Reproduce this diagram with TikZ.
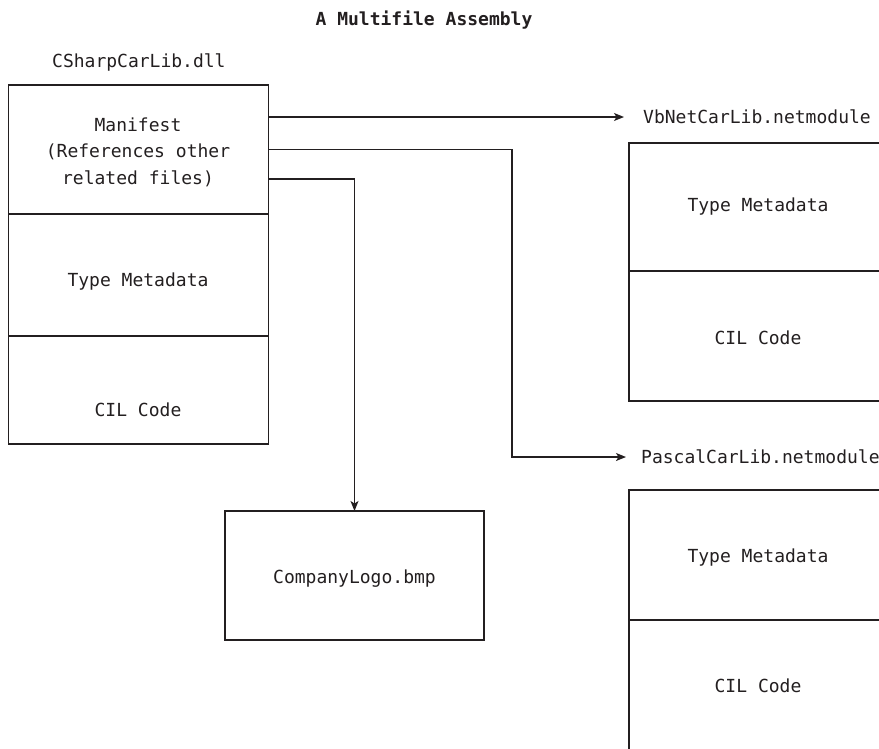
\documentclass[tikz,border=0pt]{standalone}
\usepackage{fontspec}
\setmonofont{DejaVu Sans Mono}
\usetikzlibrary{arrows.meta,calc}
\definecolor{ink}{RGB}{35,31,32}
\begin{document}
\begin{tikzpicture}[x=1pt,y=-1pt,
  txt/.style={font=\ttfamily\fontsize{18}{26.5}\selectfont, text=ink, inner sep=0pt, align=center},
  ttl/.style={font=\ttfamily\bfseries\fontsize{18}{21}\selectfont, text=ink, inner sep=0pt},
  sect/.style={draw=ink, line width=1.3pt, inner sep=0pt, outer sep=0pt, anchor=north west},
  conn/.style={draw=ink, line width=1.3pt, -{Stealth[length=10pt,width=8pt,inset=2.5pt]}}
]
\useasboundingbox (0,0) rectangle (879,748);
\clip (0,0) rectangle (879,748);

% title and labels
\node[ttl, anchor=base] (title) at (424,25) {A Multifile Assembly};
\node[txt, anchor=base west] (dll) at (52,67) {CSharpCarLib.dll};
\node[txt, anchor=west] (vb) at (643,117) {VbNetCarLib.netmodule};
\node[txt, anchor=west] (pas) at (641,457) {PascalCarLib.netmodule};

% left assembly box
\node[sect, minimum width=260pt, minimum height=129pt] (man) at (8.5,85) {};
\node[sect, minimum width=260pt, minimum height=122pt] (ltm) at (man.south west) {};
\node[sect, minimum width=260pt, minimum height=108pt] (lcil) at (ltm.south west) {};
\node[txt] (tman) at (138,152) {Manifest\\(References other\\related files)};
\node[txt, anchor=base] (tltm) at (138,286.5) {Type Metadata};
\node[txt, anchor=base] (tlcil) at (138,416.5) {CIL Code};

% right top module
\node[sect, minimum width=253pt, minimum height=128pt] (rtm1) at (629,143) {};
\node[sect, minimum width=253pt, minimum height=130pt] (rcil1) at (rtm1.south west) {};
\node[txt, anchor=base] (trtm1) at (758,211.5) {Type Metadata};
\node[txt, anchor=base] (trcil1) at (758,344.5) {CIL Code};

% right bottom module
\node[sect, minimum width=253pt, minimum height=130pt] (rtm2) at (629,490) {};
\node[sect, minimum width=253pt, minimum height=140pt] (rcil2) at (rtm2.south west) {};
\node[txt, anchor=base] (trtm2) at (758,562.5) {Type Metadata};
\node[txt, anchor=base] (trcil2) at (758,692.5) {CIL Code};

% company logo
\node[sect, minimum width=259pt, minimum height=129pt] (logo) at (225,511) {};
\node[txt, anchor=base] (tlogo) at (logo.center) [yshift=-7.5pt] {CompanyLogo.bmp};

% connectors
\draw[conn] (man.east |- vb.west) -- ([xshift=-19pt]vb.west);
\draw[conn] (man.east) -| ([xshift=-129pt]pas.west) -- ([xshift=-15pt]pas.west);
\draw[conn] ([yshift=-29.5pt]man.east) -| (logo.north);
\end{tikzpicture}
\end{document}
